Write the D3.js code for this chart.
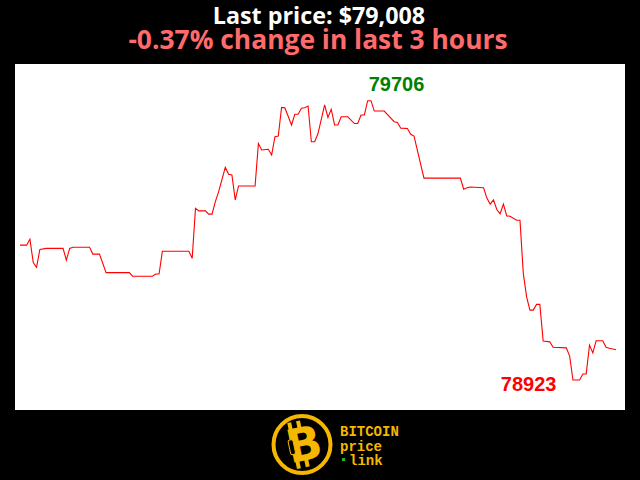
<!DOCTYPE html>
<html>
<head>
<meta charset="utf-8">
<script src="https://cdn.jsdelivr.net/npm/d3@7"></script>
<style>
html,body{margin:0;padding:0;background:#000;}
svg{display:block;}
</style>
</head>
<body>
<svg id="chart" width="640" height="480"></svg>
<script>
// Minutes since start of the 3-hour window
const minutes = [0,2,3,4,5,6,8,13,14,15,16,21,22,24,26,33,34,40,41,42,43,51,52,53,54,56,57,58,59,60,62,63,64,65,66,71,72,73,75,76,77,78,79,80,82,83,84,85,86,87,88,89,90,92,93,94,95,96,97,99,101,102,103,104,105,106,107,110,113,114,115,117,118,119,122,133,134,135,136,140,141,142,143,144,145,146,147,148,150,151,152,153,154,155,156,157,158,160,161,165,166,167,169,170,171,172,173,174,176,177,178,180];
// BTC price (USD)
const prices = [79301,79301,79318,79252,79239,79289,79292,79292,79259,79292,79295,79295,79276,79276,79224,79224,79214,79214,79220,79220,79284,79284,79264,79404,79397,79397,79388,79388,79423,79451,79519,79500,79498,79428,79467,79467,79586,79568,79570,79554,79605,79607,79687,79686,79638,79668,79668,79685,79686,79691,79591,79591,79614,79694,79659,79682,79638,79638,79661,79661,79642,79642,79666,79666,79706,79706,79677,79677,79647,79645,79629,79628,79612,79607,79489,79489,79458,79462,79464,79462,79433,79416,79428,79401,79389,79416,79383,79382,79371,79371,79222,79156,79119,79119,79135,79135,79032,79030,79015,79013,78990,78923,78923,78940,78940,79021,78999,79033,79033,79015,79012,79008];
const titleLines = ["Last price: $79,008", "-0.37% change in last 3 hours"];
const logoWords = ["BITCOIN", "price", "link"];

const data = minutes.map((m, i) => ({m, p: prices[i]}));
const svg = d3.select("#chart");

// panel
svg.append("rect").attr("x", 15).attr("y", 64).attr("width", 610).attr("height", 346).attr("fill", "#fff");

const x = d3.scaleLinear().domain([0, 180]).range([20, 616]);
const pMin = d3.min(prices), pMax = d3.max(prices);
const y = d3.scaleLinear().domain([pMin, pMax]).range([380, 100.7]);

svg.append("path").datum(data)
  .attr("fill", "none").attr("stroke", "#ff0000").attr("stroke-width", 1.1)
  .attr("d", d3.line().x(d => x(d.m)).y(d => y(d.p)));

const iMax = prices.indexOf(pMax), iMin = prices.indexOf(pMin);
svg.append("text").attr("x", x(minutes[iMax]) + 1).attr("y", y(pMax) - 10)
  .attr("font-family", "Liberation Sans, Arial, sans-serif").attr("font-weight", "bold")
  .attr("font-size", 20).attr("fill", "#008000").text(pMax);
svg.append("text").attr("x", x(minutes[iMin]) - 16.5).attr("y", y(pMin) + 10.7)
  .attr("text-anchor", "end")
  .attr("font-family", "Liberation Sans, Arial, sans-serif").attr("font-weight", "bold")
  .attr("font-size", 20).attr("fill", "#ff0000").text(pMin);

// titles
svg.append("text").attr("x", 319).attr("y", 24).attr("text-anchor", "middle")
  .attr("font-family", "Open Sans, sans-serif").attr("font-weight", "bold")
  .attr("font-size", 23.3).attr("fill", "#fff").text(titleLines[0]);
svg.append("text").attr("x", 318).attr("y", 49).attr("text-anchor", "middle")
  .attr("font-family", "Open Sans, sans-serif").attr("font-weight", "bold")
  .attr("font-size", 26.4).attr("fill", "#ff6b6b").text(titleLines[1]);

// logo
const gold = "#f5b700";
const lg = svg.append("g");
lg.append("circle").attr("cx", 302).attr("cy", 444.5).attr("r", 28.5)
  .attr("fill", "#000").attr("stroke", gold).attr("stroke-width", 4);
const bg = lg.append("g").attr("transform", "translate(302,444.5) rotate(-12)");
bg.append("rect").attr("x", -10).attr("y", -24).attr("width", 4).attr("height", 8).attr("fill", gold);
bg.append("rect").attr("x", -1).attr("y", -24).attr("width", 4).attr("height", 8).attr("fill", gold);
bg.append("rect").attr("x", -10).attr("y", 15).attr("width", 4).attr("height", 8).attr("fill", gold);
bg.append("rect").attr("x", -1).attr("y", 15).attr("width", 4).attr("height", 8).attr("fill", gold);
bg.append("text").attr("x", 2).attr("y", 16).attr("text-anchor", "middle")
  .attr("font-family", "DejaVu Sans, sans-serif").attr("font-weight", "bold")
  .attr("font-size", 46).attr("fill", gold).text("B");
bg.append("rect").attr("x", -13).attr("y", -7).attr("width", 5).attr("height", 15)
  .attr("rx", 2).attr("fill", "#000").attr("stroke", gold).attr("stroke-width", 1);

lg.selectAll("text.w").data(logoWords).join("text").attr("class", "w")
  .attr("x", (d, i) => i === 2 ? 349 : 340)
  .attr("y", (d, i) => 436 + i * 14.5)
  .attr("font-family", "Liberation Mono, Courier New, monospace").attr("font-weight", "bold")
  .attr("font-size", 14).attr("fill", gold).text(d => d);
lg.append("rect").attr("x", 342).attr("y", 458).attr("width", 3).attr("height", 3).attr("fill", "#1db81d");
</script>
</body>
</html>
